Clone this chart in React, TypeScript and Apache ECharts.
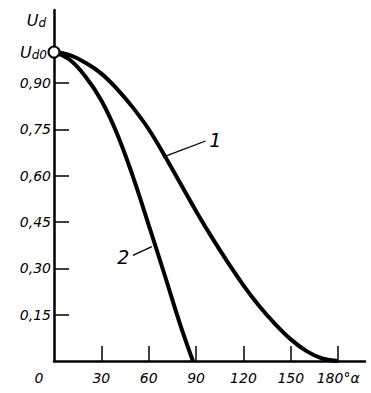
import React, { useEffect, useRef } from "react";
import * as echarts from "echarts";

// Angle α in degrees and relative voltage Ud/Ud0
const alpha1 = [0, 10, 20, 30, 40, 50, 60, 70, 80, 90, 100, 110, 120, 130, 140, 150, 160, 170, 180];
const curve1 = [1.0, 0.99, 0.965, 0.93, 0.88, 0.82, 0.75, 0.665, 0.575, 0.485, 0.4, 0.32, 0.245, 0.178, 0.12, 0.07, 0.032, 0.008, 0.0];
const alpha2 = [0, 10, 20, 30, 40, 50, 60, 70, 80, 88];
const curve2 = [1.0, 0.975, 0.92, 0.843, 0.735, 0.597, 0.44, 0.28, 0.117, 0.0];

const xTicks = [30, 60, 90, 120, 150, 180];
const xLabels = [0, 30, 60, 90, 120, 150, 180];
const yTicks = [0.15, 0.3, 0.45, 0.6, 0.75, 0.9];
const yLabels = [0.15, 0.3, 0.45, 0.6, 0.75, 0.9, 1.0];

// annotation leader lines [from, to] in data units
const leader1 = [[69, 0.66], [96, 0.712]];
const leader2 = [[62, 0.37], [50, 0.342]];

const FONT = "DejaVu Sans";

const richUd = {
  u: { fontFamily: FONT, fontStyle: "italic", fontSize: 16, color: "#000" },
  s: { fontFamily: FONT, fontStyle: "italic", fontSize: 12, color: "#000", padding: [6, 0, 0, 0] },
  s0: { fontFamily: FONT, fontStyle: "italic", fontSize: 12, color: "#000", padding: [6, 4, 0, 0] },
};

export default function App() {
  const ref = useRef<HTMLDivElement>(null);
  useEffect(() => {
    if (!ref.current) return;
    const chart = echarts.init(ref.current, null, { renderer: "svg" });
    const d1 = alpha1.map((a, i) => [a, curve1[i]]);
    const d2 = alpha2.map((a, i) => [a, curve2[i]]);
    const lineCommon = {
      type: "line",
      showSymbol: false,
      symbol: "none",
      smooth: 0.4,
      lineStyle: { color: "#000", width: 4 },
      z: 3,
    };
    const labelStyle = {
      show: true,
      position: "end",
      distance: 4,
      color: "#000",
      fontFamily: FONT,
      fontStyle: "italic",
      fontSize: 19,
    };
    chart.setOption({
      animation: false,
      backgroundColor: "#fff",
      grid: { left: 54, right: 6, top: 10, bottom: 32 },
      xAxis: {
        type: "value",
        min: 0,
        max: 197,
        splitLine: { show: false },
        axisLine: { lineStyle: { color: "#000", width: 2.5 } },
        axisTick: {
          inside: true,
          length: 15,
          customValues: xTicks,
          lineStyle: { color: "#000", width: 1.5 },
        },
        axisLabel: {
          customValues: xLabels,
          margin: 10,
          color: "#000",
          fontFamily: FONT,
          fontStyle: "italic",
          fontSize: 14,
          formatter: (v: number) => (v === 0 ? "{z|0}" : v === 180 ? "180°α" : String(v)),
          rich: {
            z: { padding: [0, 30, 0, 0], fontFamily: FONT, fontStyle: "italic", fontSize: 14, color: "#000" },
          },
        },
      },
      yAxis: {
        type: "value",
        min: 0,
        max: 1.136,
        splitLine: { show: false },
        axisLine: { lineStyle: { color: "#000", width: 2.5 } },
        axisTick: {
          inside: true,
          length: 15,
          customValues: yTicks,
          lineStyle: { color: "#000", width: 1.5 },
        },
        name: "{u|U}{s|d}",
        nameLocation: "end",
        nameGap: -10,
        nameTextStyle: {
          align: "right",
          verticalAlign: "middle",
          padding: [0, 8, 0, 0],
          rich: richUd,
        },
        axisLabel: {
          customValues: yLabels,
          margin: 3,
          color: "#000",
          fontFamily: FONT,
          fontStyle: "italic",
          fontSize: 14,
          formatter: (v: number) => (v === 1 ? "{u|U}{s0|d0}" : v.toFixed(2).replace(".", ",")),
          rich: richUd,
        },
      },
      series: [
        {
          ...lineCommon,
          data: d1,
          markLine: {
            silent: true,
            symbol: ["none", "none"],
            lineStyle: { color: "#000", width: 1.3, type: "solid" },
            label: { ...labelStyle, formatter: "1" },
            data: [[{ coord: leader1[0] }, { coord: leader1[1] }]],
          },
        },
        {
          ...lineCommon,
          data: d2,
          markLine: {
            silent: true,
            symbol: ["none", "none"],
            lineStyle: { color: "#000", width: 1.3, type: "solid" },
            label: { ...labelStyle, formatter: "2" },
            data: [[{ coord: leader2[0] }, { coord: leader2[1] }]],
          },
        },
        {
          type: "scatter",
          data: [[0, 1]],
          symbol: "circle",
          symbolSize: 11,
          itemStyle: { color: "#fff", borderColor: "#000", borderWidth: 2, opacity: 1 },
          z: 5,
        },
      ],
    });
    return () => chart.dispose();
  }, []);
  return (
    <div
      ref={ref}
      style={{ position: "fixed", left: 0, top: 0, width: 371, height: 393, background: "#fff" }}
    />
  );
}
